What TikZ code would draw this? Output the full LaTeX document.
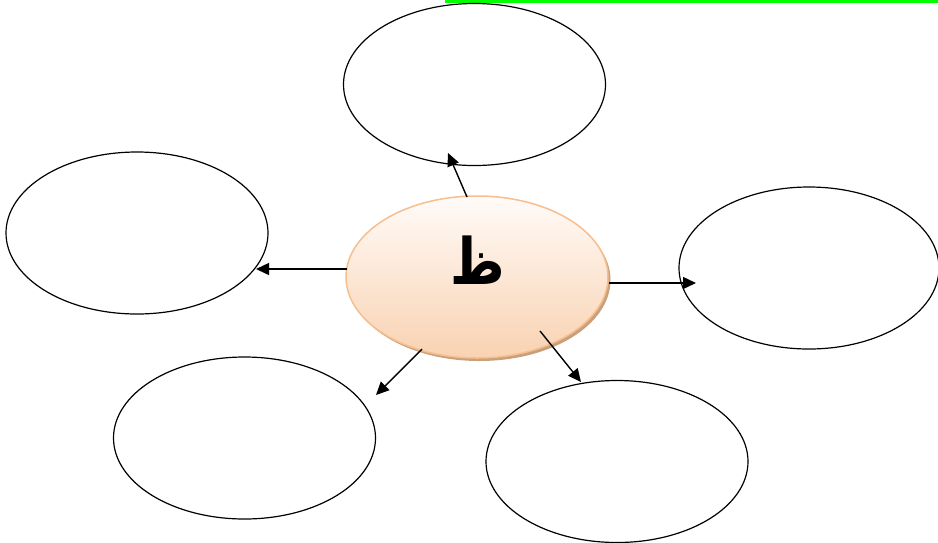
\documentclass[tikz,border=0pt]{standalone}
\usepackage{fontspec}
\newfontfamily\arabicfont[Script=Arabic]{DejaVu Sans}
\TeXXeTstate=1
\usetikzlibrary{shapes.geometric,arrows.meta}
\definecolor{peachtop}{HTML}{FFFBF8}
\definecolor{peachbot}{HTML}{F9D2B2}
\definecolor{peachline}{HTML}{F7BE8E}
\definecolor{shadowc}{HTML}{C9A07C}
\begin{document}
\begin{tikzpicture}[x=1pt,y=-1pt,
  bubble/.style={draw=black,line width=1.2pt,ellipse,minimum width=262pt,minimum height=162pt,inner sep=0pt},
  arr/.style={line width=1.4pt,-{Triangle[length=13pt,width=12pt]}}]
\useasboundingbox (0,0) rectangle (938,542);
\fill[white] (0,0) rectangle (938,542);
\fill[green] (445,0) rectangle (938,3);
% outer ellipses
\node[bubble] (top) at (474.5,84.5) {};
\node[bubble] (left) at (137,233) {};
\node[bubble,minimum width=260pt] (right) at (809,268) {};
\node[bubble] (bl) at (244.5,438) {};
\node[bubble] (br) at (617,461.5) {};
% centre
\fill[shadowc] (479.5,280) ellipse [x radius=131,y radius=81];
\node[ellipse,minimum width=262pt,minimum height=162pt,inner sep=0pt,
  draw=peachline,line width=1.5pt,top color=peachtop,bottom color=peachbot] (c) at (477,277) {};
\node[font={\arabicfont\bfseries\fontsize{64}{64}\selectfont},xscale=0.82,transform shape] (lt) at (478,260) {\beginR ظ\endR};
% arrow endpoints
\coordinate (s1) at (467,197); \coordinate (e1) at (448,153);
\coordinate (s2) at (347,269); \coordinate (e2) at (256,269);
\coordinate (s3) at (609,283); \coordinate (e3) at (696,283);
\coordinate (s4) at (422,349); \coordinate (e4) at (376,395);
\coordinate (s5) at (540,331); \coordinate (e5) at (581,382);
\draw[arr] (s1) -- (e1);
\draw[arr] (s2) -- (e2);
\draw[arr] (s3) -- (e3);
\draw[arr] (s4) -- (e4);
\draw[arr] (s5) -- (e5);
\end{tikzpicture}
\end{document}
